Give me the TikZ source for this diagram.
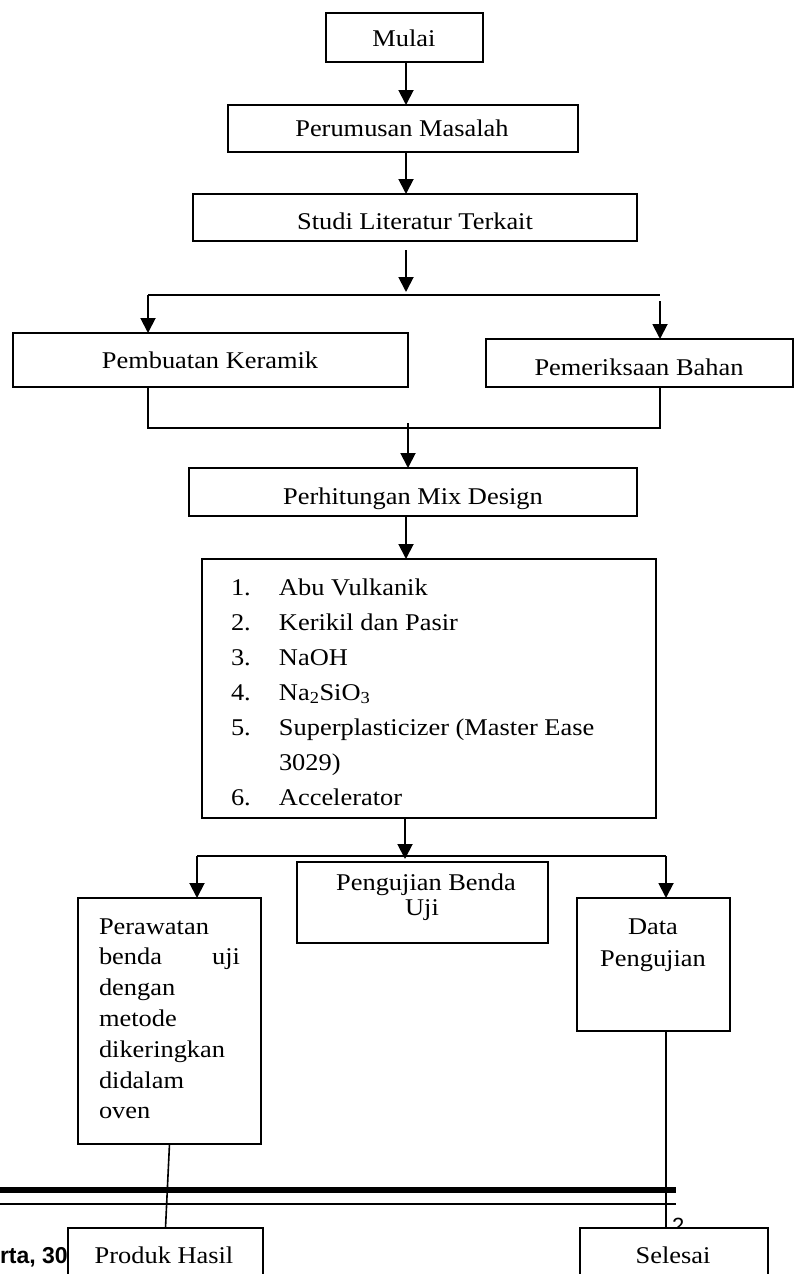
\documentclass[tikz,border=0pt]{standalone}
\usepackage{fontspec}
\setmainfont{Liberation Serif}[FakeStretch=1.1]
\newfontfamily\sansb{Liberation Sans}
\usetikzlibrary{arrows.meta}
\tikzset{
 box/.style={draw, line width=1.5pt, fill=white, inner sep=0pt, outer sep=0pt},
 arr/.style={line width=1.9pt, -{Triangle[length=15pt,width=15pt]}},
 ln/.style={line width=1.6pt},
 txt/.style={inner sep=0pt, outer sep=0pt, anchor=base, font=\fontsize{24}{30}\selectfont},
}
\newcommand{\bx}[5]{\node[box, minimum width={(#4-#2)*1pt}, minimum height={(#5-#3)*1pt}] (#1) at ({(#2+#4)/2},{(#3+#5)/2}) {};}
\begin{document}
\begin{tikzpicture}[x=1pt,y=-1pt]
\useasboundingbox (0,0) rectangle (795,1274);
\clip (0,0) rectangle (795,1274);
% boxes
\bx{mulai}{326}{13}{483}{62}
\bx{perum}{228}{105}{578}{152}
\bx{studi}{193}{194}{637}{241}
\bx{pemb}{13}{333}{408}{387}
\bx{pemer}{486}{339}{793}{387}
\bx{perh}{189}{468}{637}{516}
\bx{list}{202}{559}{656}{818}
\bx{peng}{297}{862}{548}{943}
\bx{per}{78}{898}{261}{1144}
\bx{data}{577}{898}{730}{1031}
% reference coordinates
\coordinate (c1) at (406,0);
\coordinate (c2) at (405,0);
\coordinate (c3) at (666,0);
\coordinate (s1) at (406,250);
\coordinate (s2) at (406,292);
\coordinate (hl) at (148,295);
\coordinate (hr) at (660,295);
\coordinate (hr2) at (660,301);
\coordinate (jl) at (148,428);
\coordinate (jr) at (660,428);
\coordinate (j2) at (408,423);
\coordinate (k0) at (405,859);
\coordinate (kl) at (197,856);
\coordinate (kr) at (666,856);
% connectors
\draw[arr] (mulai.south -| c1) -- (perum.north -| c1);
\draw[arr] (perum.south -| c1) -- (studi.north -| c1);
\draw[arr] (s1) -- (s2);
\draw[ln] (hl) -- (hr);
\draw[arr] (hl) -- (pemb.north -| hl);
\draw[arr] (hr2) -- (pemer.north -| hr2);
\draw[ln] (pemb.south -| jl) -- (jl) -- (jr) -- (pemer.south -| jr);
\draw[arr] (j2) -- (perh.north -| j2);
\draw[arr] (perh.south -| c1) -- (list.north -| c1);
\draw[arr] (list.south -| c2) -- (k0);
\draw[ln] (kl) -- (kr);
\draw[arr] (kl) -- (per.north -| kl);
\draw[arr] (kr) -- (data.north -| kr);
% page footer rules
\draw[line width=6.5pt] (0,1190) -- (676,1190);
\draw[line width=1.5pt] (0,1204) -- (676,1204);
\node[inner sep=0pt, anchor=base east, font=\sansb\bfseries\fontsize{23}{26}\selectfont] (foot) at (68,1263) {rta, 30};
\node[inner sep=0pt, anchor=base west, font=\sansb\fontsize{22}{24}\selectfont] (pgno) at (672,1233) {2};
\bx{prod}{68}{1228}{263}{1300}
\bx{sel}{580}{1228}{768}{1300}
\draw[ln] (per.south) -- (prod.north);
\draw[ln] (data.south -| c3) -- (sel.north -| c3);
% texts
\node[txt] (tmulai) at (404,46) {Mulai};
\node[txt] (tperum) at (402,136) {Perumusan Masalah};
\node[txt] (tstudi) at (415,229) {Studi Literatur Terkait};
\node[txt] (tpemb) at (210,368) {Pembuatan Keramik};
\node[txt] (tpemer) at (639,375) {Pemeriksaan Bahan};
\node[txt] (tperh) at (413,504) {Perhitungan Mix Design};
\node[txt, anchor=base west, font=\fontsize{24}{35}\selectfont] (tlist) at (231,595) {\begin{tabular}[t]{@{}p{48pt}@{}l@{}}
1. & Abu Vulkanik\\
2. & Kerikil dan Pasir\\
3. & NaOH\\
4. & Na\textsubscript{2}SiO\textsubscript{3}\\
5. & Superplasticizer (Master Ease\\
   & 3029)\\
6. & Accelerator
\end{tabular}};
\node[txt] (tpeng1) at (426,890) {Pengujian Benda};
\node[txt] (tpeng2) at (422,915) {Uji};
\node[txt, anchor=base west] (tper1) at (99,934) {Perawatan};
\node[txt, anchor=base west] (tper2) at (99,964.7) {\makebox[141pt][s]{benda uji}};
\node[txt, anchor=base west] (tper3) at (99,995.4) {dengan};
\node[txt, anchor=base west] (tper4) at (99,1026) {metode};
\node[txt, anchor=base west] (tper5) at (99,1057) {dikeringkan};
\node[txt, anchor=base west] (tper6) at (99,1088) {didalam};
\node[txt, anchor=base west] (tper7) at (99,1118) {oven};
\node[txt] (tdata1) at (653,934) {Data};
\node[txt] (tdata2) at (653,966) {Pengujian};
\node[txt] (tprod) at (164,1263) {Produk Hasil};
\node[txt] (tsel) at (673,1263) {Selesai};
\end{tikzpicture}
\end{document}
